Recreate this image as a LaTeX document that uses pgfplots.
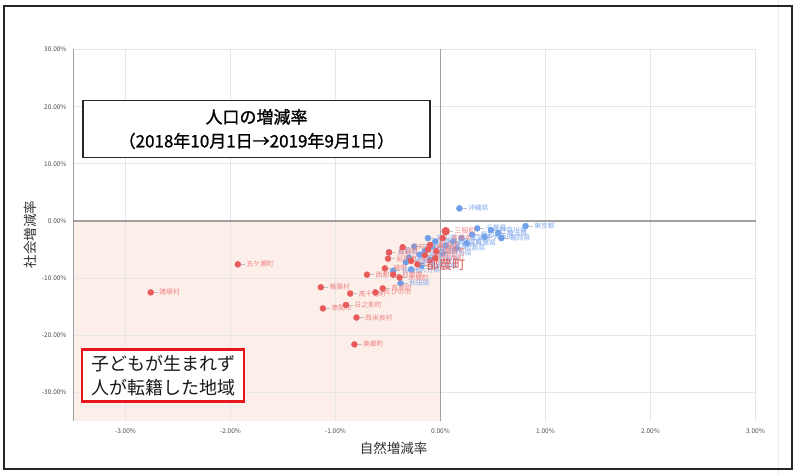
\documentclass[border=0pt]{standalone}
\usepackage{fontspec}
\setmainfont{Noto Sans CJK JP}
\newfontfamily\titlefont[FakeBold=1.2]{Noto Sans CJK JP}
\usepackage{pgfplots}
\pgfplotsset{compat=1.18}
\usepackage{pgfplotstable}

\definecolor{ptred}{HTML}{E95A5A}
\definecolor{ptblue}{HTML}{6D9EEB}
\definecolor{lbred}{HTML}{EE8282}
\definecolor{lbblue}{HTML}{82AAEC}
\definecolor{quad}{HTML}{FCEFEA}
\definecolor{gridc}{HTML}{E6E6E6}
\definecolor{zeroc}{HTML}{A0A0A0}
\definecolor{boxred}{HTML}{E8141E}

% 宮崎県内の市町村 (自然増減率 %, 社会増減率 %)
\pgfplotstableread{
x y n
-2.76 -12.5 諸塚村
-1.93 -7.6 五ケ瀬町
-1.14 -11.6 椎葉村
-0.86 -12.7 高千穂町
-0.62 -12.5 えびの市
-0.55 -11.8 高原町
-1.12 -15.3 串間市
-0.90 -14.7 日之影町
-0.80 -16.9 西米良村
-0.82 -21.6 美郷町
-0.70 -9.4 西都市
-0.45 -9.4 日南市
-0.39 -9.9 木城町
-0.53 -8.3 綾町
-0.50 -6.6 延岡市
-0.49 -5.5 高鍋町
-0.36 -4.6 日向市
-0.28 -7.0 小林市
-0.15 -6.0 国富町
-0.10 -4.2 都城市
-0.12 -5.0 門川町
-0.05 -6.5 川南町
0.02 -3.0 宮崎市
-0.04 -5.3 新富町
}\redtab

\pgfplotstableread{
x y n
0.05 -1.8 三股町
}\mimatab

\pgfplotstableread{
x y n
-0.22 -7.6 都農町
}\tsunotab

% 都道府県
\pgfplotstableread{
x y n
0.18 2.2 沖縄県
0.81 -0.9 東京都
0.35 -1.3 千葉県
0.48 -1.6 神奈川県
0.55 -2.1 埼玉県
0.30 -2.4 愛知県
0.42 -2.8 大阪府
0.58 -3.0 福岡県
0.20 -3.0 滋賀県
0.12 -3.6 宮城県
0.25 -3.9 兵庫県
0.05 -4.3 京都府
0.15 -4.8 広島県
-0.05 -3.6 静岡県
-0.12 -3.0 石川県
-0.08 -4.6 岡山県
0.02 -5.6 群馬県
-0.15 -5.2 栃木県
-0.25 -4.5 三重県
-0.20 -5.9 茨城県
-0.30 -6.4 岐阜県
-0.49 -5.5 長野県
-0.33 -7.2 熊本県
-0.18 -7.8 鹿児島県
-0.28 -8.5 大分県
-0.45 -8.7 長崎県
-0.10 -6.8 佐賀県
-0.38 -10.9 秋田県
}\bluetab

\pgfplotsset{
  lbl/.style n args={2}{
    point meta=explicit symbolic,
    nodes near coords={\textcolor{gray!50}{\rule[0.35em]{4pt}{0.4pt}}\hspace{1.5pt}\pgfplotspointmeta},
    every node near coord/.append style={anchor=west, xshift=3pt, inner sep=0pt,
        text=#1, font=\fontsize{#2}{#2}\selectfont},
  },
}

\begin{document}
\begin{tikzpicture}[x=1pt,y=1pt]
\path (0,0) rectangle (800,475);
\draw[gray!15, line width=1pt] (778,0) -- (778,475);
\draw[black!85, line width=2pt] (4,6) rectangle (792,469);

\begin{axis}[
    set layers,
    at={(73pt,54.5pt)}, anchor=south west,
    scale only axis, width=682.5pt, height=371.5pt,
    xmin=-3.5, xmax=3, ymin=-35, ymax=30,
    axis line style={draw=none},
    xtick={-3,-2,-1,0,1,2,3},
    xticklabels={-3.00\%,-2.00\%,-1.00\%,0.00\%,1.00\%,2.00\%,3.00\%},
    ytick={-30,-20,-10,0,10,20,30},
    yticklabels={-30.00\%,-20.00\%,-10.00\%,0.00\%,10.00\%,20.00\%,30.00\%},
    major tick length=0pt,
    grid=major,
    grid style={gridc, line width=0.9pt},
    tick label style={font=\fontsize{6.5}{7}\selectfont, text=black!70},
    xticklabel style={yshift=-4pt},
    yticklabel style={xshift=-3pt},
    clip=false,
]
% 自然減・社会減の領域
\addplot[on layer=axis background, draw=none, fill=quad]
    coordinates {(-3.5,-35) (0,-35) (0,0) (-3.5,0)};
\addplot[zeroc, line width=1pt] coordinates {(-3.5,-35) (-3.5,30)};
\addplot[zeroc, line width=1.2pt] coordinates {(0,-35) (0,30)};
\addplot[zeroc, line width=1.2pt] coordinates {(-3.5,0) (3,0)};

% 都道府県
\addplot[ptblue, only marks, mark=*, mark size=3pt, lbl={lbblue}{6.8}]
    table[x=x, y=y, meta=n] {\bluetab};

% 市町村
\addplot[ptred, only marks, mark=*, mark size=3pt, lbl={lbred}{6.8}]
    table[x=x, y=y, meta=n] {\redtab};
\addplot[ptred, only marks, mark=*, mark size=4pt, lbl={lbred}{7.2}]
    table[x=x, y=y, meta=n] {\mimatab};
\addplot[ptred, only marks, mark=*, mark size=3pt, lbl={ptred!95!black}{13}]
    table[x=x, y=y, meta=n] {\tsunotab};
\end{axis}

\node[draw=black!85, line width=1.3pt, fill=white, minimum width=347pt,
    minimum height=57pt, align=center, inner sep=0pt,
    font=\titlefont\fontsize{17}{24}\selectfont] at (256.5,346.5)
    {人口の増減率\\（2018年10月1日→2019年9月1日）};

\node[draw=boxred, line width=2.5pt, fill=white, minimum width=162pt,
    minimum height=52pt, align=left, inner sep=0pt,
    font=\fontsize{18}{24}\selectfont, text=black!90] at (163,100)
    {子どもが生まれず\\人が転籍した地域};

\node[rotate=90, font=\fontsize{13.5}{14}\selectfont, text=black!80] at (30,241) {社会増減率};
\node[font=\fontsize{13.5}{14}\selectfont, text=black!80] at (393.5,27) {自然増減率};
\end{tikzpicture}
\end{document}
